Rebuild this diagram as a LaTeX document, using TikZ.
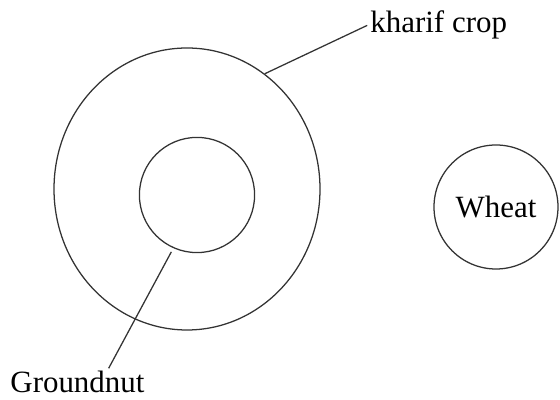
\documentclass[tikz,border=0pt]{standalone}
\usepackage{fontspec}
\setmainfont{Liberation Serif}
\usetikzlibrary{shapes.geometric}

\begin{document}
\begin{tikzpicture}[
  line width = 0.9pt,
  font = \fontsize{22}{26}\selectfont,
  semithick
  ]

  \tikzstyle{croparea}=[
  draw = black!80,
  line width = 0.9pt,
  ellipse,
  inner sep = 0pt
  ]
  \tikzstyle{tag}=[inner sep = 2pt]
  \tikzstyle{leader}=[draw = black!80, line width = 0.9pt]

  \useasboundingbox (0,0) rectangle (14,10);

  \node[croparea, minimum width=6.65cm, minimum height=7.05cm] (kharif) at (4.675,5.275) {};
  \node[croparea, circle, minimum size=2.88cm] (gnut) at (4.925,5.125) {};
  \node[croparea, circle, minimum size=3.1cm] (wheat) at (12.4,4.825) {Wheat};

  \node[tag, anchor=base west] (khariflbl) at (9.18,9.175) {kharif crop};
  \node[tag, anchor=base west] (gnutlbl) at (0.18,0.175) {Groundnut};

  \path[leader] (kharif.56) -- (khariflbl.west);
  \path[leader, shorten <= 3pt] (gnut.246) -- ([xshift=0.78cm]gnutlbl.north);

\end{tikzpicture}
\end{document}
